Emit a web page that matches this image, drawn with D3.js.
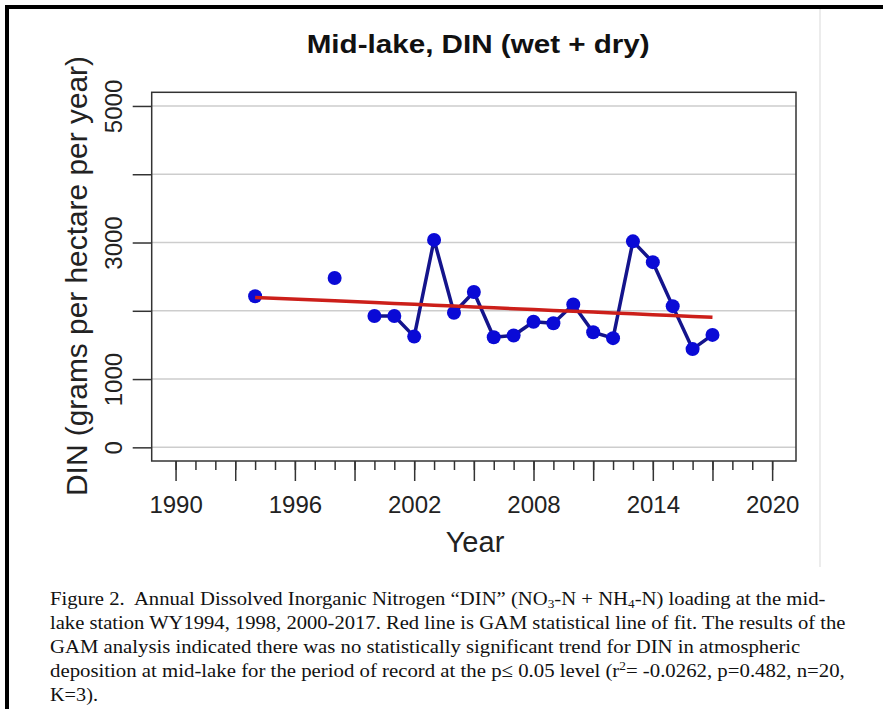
<!DOCTYPE html>
<html>
<head>
<meta charset="utf-8">
<script src="https://cdn.jsdelivr.net/npm/d3@7"></script>
<style>
  body { margin: 0; background: #fff; }
  svg { display: block; }
  text { font-family: "Liberation Sans", Arial, sans-serif; fill: #222; }
  .caption text { font-family: "Liberation Serif", "Times New Roman", serif; fill: #111; white-space: pre; }
</style>
</head>
<body>
<div id="chart"></div>
<script>
((() => {

  var width = 883;
  var height = 709;

  // observed annual DIN loading (g / ha / yr), null = no record that year
  var dinYears  = [1994, 1995, 1996, 1997, 1998, 1999, 2000, 2001, 2002, 2003, 2004, 2005,
                   2006, 2007, 2008, 2009, 2010, 2011, 2012, 2013, 2014, 2015, 2016, 2017];
  var dinValues = [2214, null, null, null, 2480, null, 1923, 1923, 1622, 3038, 1971, 2276,
                   1613, 1638, 1840, 1817, 2093, 1686, 1599, 3017, 2712, 2068, 1439, 1647];

  // GAM line of fit read at the observed years
  var fitYears  = [1994, 1998, 2000, 2001, 2002, 2003, 2004, 2005, 2006, 2007,
                   2008, 2009, 2010, 2011, 2012, 2013, 2014, 2015, 2016, 2017];
  var fitValues = [2195, 2146, 2120, 2107, 2095, 2082, 2070, 2057, 2044, 2031,
                   2019, 2006, 1993, 1981, 1968, 1955, 1942, 1930, 1917, 1904];

  var yTicks = [0, 1000, 2000, 3000, 4000, 5000];
  var yLabels = [0, 1000, 3000, 5000];
  var xMinor = d3.range(1990, 2021);
  var xMajor = d3.range(1990, 2021, 3);
  var xLabels = [1990, 1996, 2002, 2008, 2014, 2020];

  var captionLines = [
    [["Figure 2.  Annual Dissolved Inorganic Nitrogen \u201cDIN\u201d (NO"], ["3", "sub"], ["-N + NH"], ["4", "sub"], ["-N) loading at the mid-"]],
    [["lake station WY1994, 1998, 2000-2017. Red line is GAM statistical line of fit. The results of the"]],
    [["GAM analysis indicated there was no statistically significant trend for DIN in atmospheric"]],
    [["deposition at mid-lake for the period of record at the p\u2264 0.05 level (r"], ["2", "sup"], ["= -0.0262, p=0.482, n=20,"]],
    [["K=3)."]]
  ];
  var captionRight = [826, 846, 801, 845, 98];

  var box = { left: 151.7, right: 796, top: 92.3, bottom: 461 };

  var svg = d3.select("#chart")
    .append("svg")
    .attr("width", width)
    .attr("height", height);

  var x = d3.scaleLinear().domain([1988.8, 2021.2]).range([box.left, box.right]);
  var y = d3.scaleLinear().domain([-200, 5200]).range([box.bottom, box.top]);

  // page frame
  svg.append("line").attr("x1", 7).attr("x2", 7).attr("y1", 5).attr("y2", height)
    .attr("stroke", "#000").attr("stroke-width", 4);
  svg.append("line").attr("x1", 5).attr("x2", width).attr("y1", 7).attr("y2", 7)
    .attr("stroke", "#000").attr("stroke-width", 4);
  // faint edge of the pasted plot image
  svg.append("line").attr("x1", 820).attr("x2", 820).attr("y1", 9).attr("y2", 567)
    .attr("stroke", "#ececec").attr("stroke-width", 2);

  // grid
  svg.append("g")
    .selectAll("line")
    .data(yTicks)
    .enter()
    .append("line")
    .attr("x1", box.left).attr("x2", box.right)
    .attr("y1", d => y(d)).attr("y2", d => y(d))
    .attr("stroke", "#cdcdcd")
    .attr("stroke-width", 1.5);

  // y axis
  var yAxis = svg.append("g")
    .attr("transform", "translate(" + box.left + ",0)")
    .call(d3.axisLeft(y).tickValues(yTicks).tickSize(19).tickFormat(d => yLabels.indexOf(d) >= 0 ? d : ""));
  yAxis.select(".domain").remove();
  yAxis.selectAll(".tick line").attr("stroke", "#333").attr("stroke-width", 1.5);
  yAxis.selectAll(".tick text")
    .attr("transform", "rotate(-90)")
    .attr("x", 0).attr("y", -29.7).attr("dy", 0)
    .attr("text-anchor", "middle")
    .style("font-size", "24px")
    .style("fill", "#222");

  // x axis: yearly minor ticks, 3-year major ticks
  var xMinorAxis = svg.append("g")
    .attr("transform", "translate(0," + box.bottom + ")")
    .call(d3.axisBottom(x).tickValues(xMinor).tickSize(9).tickFormat(""));
  xMinorAxis.select(".domain").remove();
  xMinorAxis.selectAll(".tick line").attr("stroke", "#333").attr("stroke-width", 1.5);

  var xMajorAxis = svg.append("g")
    .attr("transform", "translate(0," + box.bottom + ")")
    .call(d3.axisBottom(x).tickValues(xMajor).tickSize(20).tickFormat(d => xLabels.indexOf(d) >= 0 ? d : ""));
  xMajorAxis.select(".domain").remove();
  xMajorAxis.selectAll(".tick line").attr("stroke", "#333").attr("stroke-width", 1.5);
  xMajorAxis.selectAll(".tick text")
    .attr("y", 52).attr("dy", 0)
    .style("font-size", "24px")
    .style("fill", "#222");

  // plot box
  svg.append("rect")
    .attr("x", box.left).attr("y", box.top)
    .attr("width", box.right - box.left).attr("height", box.bottom - box.top)
    .attr("fill", "none").attr("stroke", "#333").attr("stroke-width", 1.5);

  // data
  var obs = dinYears.map((yr, i) => ({ year: yr, value: dinValues[i] }));
  var fit = fitYears.map((yr, i) => ({ year: yr, value: fitValues[i] }));

  var line = d3.line()
    .defined(d => d.value != null)
    .x(d => x(d.year))
    .y(d => y(d.value));

  svg.append("path")
    .datum(obs)
    .attr("d", line)
    .attr("fill", "none")
    .attr("stroke", "#14148c")
    .attr("stroke-width", 3.5)
    .attr("stroke-linejoin", "round");

  svg.append("g")
    .selectAll("circle")
    .data(obs.filter(d => d.value != null))
    .enter()
    .append("circle")
    .attr("cx", d => x(d.year))
    .attr("cy", d => y(d.value))
    .attr("r", 7)
    .style("fill", "#0a0ad6");

  svg.append("path")
    .datum(fit)
    .attr("d", line)
    .attr("fill", "none")
    .attr("stroke", "#cc1f1a")
    .attr("stroke-width", 3.5);

  // titles
  svg.append("text")
    .attr("x", 306.7).attr("y", 53.3)
    .attr("textLength", 343).attr("lengthAdjust", "spacingAndGlyphs")
    .style("font-size", "25.6px").style("font-weight", "bold").style("fill", "#111")
    .text("Mid-lake, DIN (wet + dry)");

  svg.append("text")
    .attr("transform", "translate(86.7,276) rotate(-90)")
    .attr("text-anchor", "middle")
    .attr("textLength", 440).attr("lengthAdjust", "spacingAndGlyphs")
    .style("font-size", "29px")
    .text("DIN (grams per hectare per year)");

  svg.append("text")
    .attr("x", 475).attr("y", 552)
    .attr("text-anchor", "middle")
    .style("font-size", "29px")
    .text("Year");

  // caption (sub/superscripts shift the baseline, the next piece shifts it back)
  var cap = svg.append("g").attr("class", "caption");
  captionLines.forEach(function(parts, i) {
    var t = cap.append("text")
      .attr("x", 0).attr("y", 0)
      .style("font-size", "19.5px");
    var back = 0;
    parts.forEach(function(p) {
      var ts = t.append("tspan").text(p[0]);
      var shift = 0;
      if (p[1] == "sub") shift = 3;
      if (p[1] == "sup") shift = -7;
      if (shift != 0) ts.style("font-size", "12.5px");
      if (shift + back != 0) ts.attr("dy", shift + back);
      back = -shift;
    });
    var w = t.node().getComputedTextLength();
    var sx = (captionRight[i] - 50) / w;
    t.attr("transform", "translate(50," + (604.7 + i * 24) + ") scale(" + sx + ",1)");
  });

})());
</script>
</body>
</html>
